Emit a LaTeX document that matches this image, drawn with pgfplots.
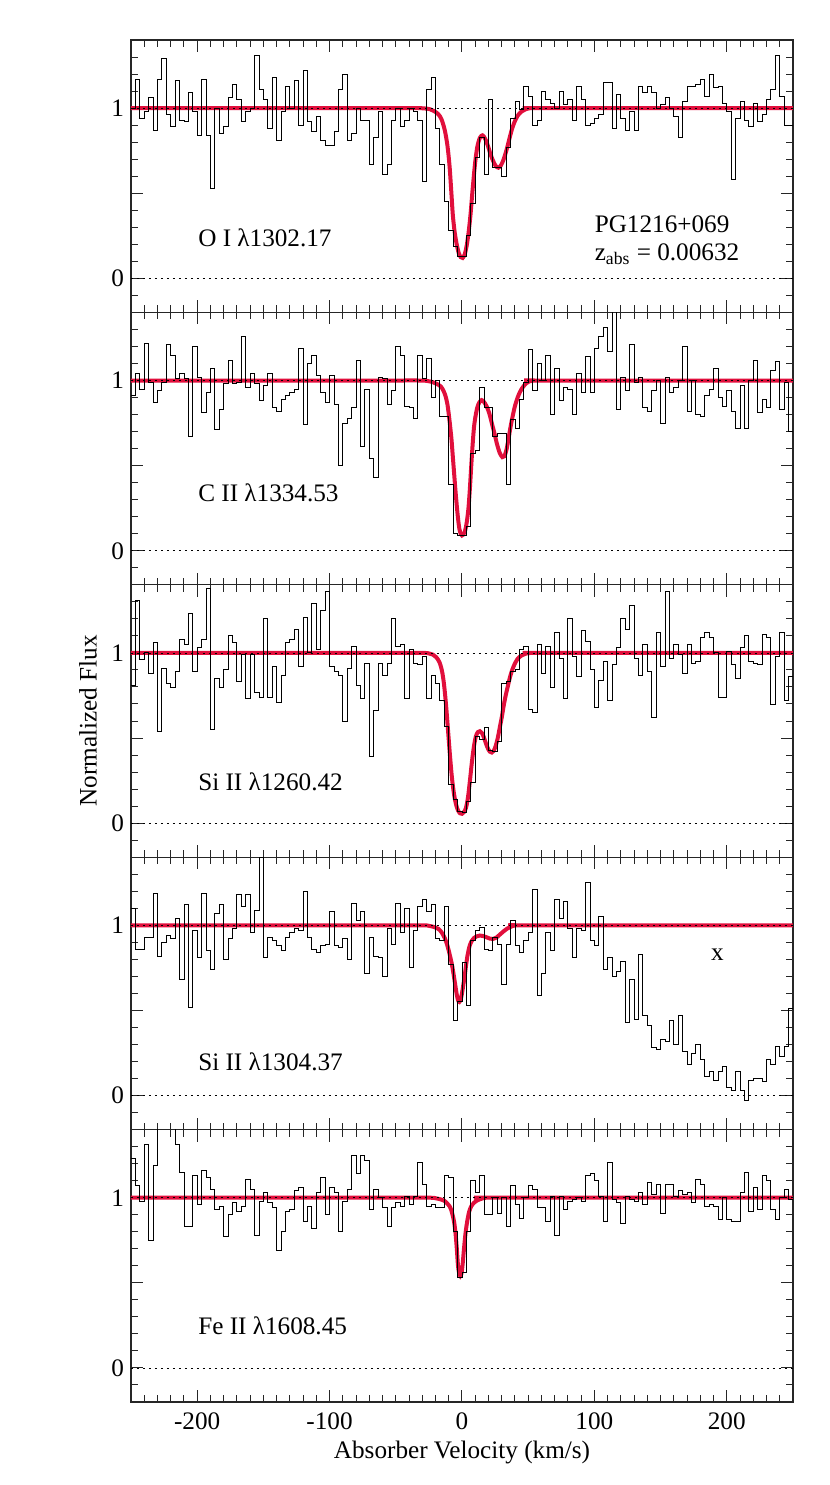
\documentclass[border=0pt]{standalone}
\usepackage{fontspec}
\setmainfont{Liberation Serif}
\usepackage{pgfplots}
\pgfplotsset{compat=1.18}
\usepackage{pgfplotstable}
\definecolor{fitred}{RGB}{225,15,60}

\pgfplotstableread{
v f1 f2 f3 f4 f5
-250.00 1.00 0.91 0.81 1.10 1.23
-246.67 1.17 1.04 1.31 0.86 1.07
-243.33 0.94 0.95 0.96 0.86 0.98
-240.00 0.98 1.22 1.00 0.93 1.31
-236.67 1.06 0.99 0.88 0.93 0.75
-233.33 0.87 0.87 1.06 1.19 1.19
-230.00 1.17 0.94 0.54 0.82 1.45
-226.67 1.29 0.99 0.91 0.90 1.45
-223.33 0.96 1.21 0.82 0.94 1.45
-220.00 0.89 1.15 0.80 0.92 1.45
-216.67 1.16 1.01 0.89 1.04 1.31
-213.33 0.93 1.04 1.08 0.68 1.15
-210.00 0.92 1.01 1.05 1.12 0.83
-206.67 1.09 0.67 1.23 0.52 0.83
-203.33 0.98 1.20 0.89 0.97 1.13
-200.00 0.84 1.02 1.03 0.81 0.96
-196.67 1.17 0.81 1.08 1.19 1.16
-193.33 0.84 0.93 1.38 0.85 1.12
-190.00 0.53 1.07 0.55 0.74 1.05
-186.67 1.00 0.71 0.85 1.07 0.93
-183.33 0.85 0.83 0.80 1.12 0.95
-180.00 0.89 0.98 0.90 0.80 0.77
-176.67 1.06 1.12 1.10 0.92 0.90
-173.33 1.14 0.98 1.06 0.98 0.97
-170.00 1.05 0.99 0.83 1.18 0.92
-166.67 0.92 1.26 0.99 1.11 0.95
-163.33 0.98 0.96 0.73 1.18 1.11
-160.00 1.00 1.04 0.99 0.96 1.05
-156.67 1.31 0.98 0.77 1.09 0.78
-153.33 1.11 0.88 0.74 1.40 0.98
-150.00 1.05 0.97 1.20 0.81 1.03
-146.67 0.88 1.04 0.74 0.93 0.97
-143.33 1.18 0.84 0.92 0.91 0.94
-140.00 0.81 0.82 0.71 0.88 0.69
-136.67 0.98 0.89 0.87 0.85 0.80
-133.33 1.13 0.91 1.06 0.93 0.92
-130.00 1.00 0.93 1.08 0.96 0.93
-126.67 1.16 0.95 1.14 0.98 1.04
-123.33 0.90 1.19 0.92 0.97 1.06
-120.00 1.22 0.74 1.21 1.20 0.86
-116.67 0.92 1.10 1.00 0.93 0.95
-113.33 0.86 1.15 1.29 0.86 0.82
-110.00 0.95 1.03 1.02 0.84 1.03
-106.67 0.81 0.93 1.25 0.88 1.12
-103.33 0.78 0.87 1.36 0.89 0.90
-100.00 0.78 1.03 0.92 1.08 1.06
-96.67 0.86 0.86 0.89 0.88 1.03
-93.33 1.11 0.50 0.87 0.87 0.80
-90.00 1.20 0.75 0.60 0.92 0.98
-86.67 0.81 0.78 0.91 0.80 1.05
-83.33 0.85 0.84 1.04 1.13 1.25
-80.00 1.00 1.12 0.81 1.03 1.14
-76.67 0.93 0.61 0.73 1.08 1.25
-73.33 0.93 0.95 0.94 0.72 1.22
-70.00 0.67 0.54 0.39 0.93 0.93
-66.67 0.83 0.43 0.66 0.82 1.05
-63.33 0.98 1.02 0.94 0.81 1.00
-60.00 0.61 1.01 0.87 0.70 0.94
-56.67 0.67 0.86 0.94 0.98 0.83
-53.33 0.93 0.94 1.20 0.89 0.94
-50.00 1.00 1.20 1.04 1.13 0.97
-46.67 0.89 1.15 1.05 0.96 0.95
-43.33 0.93 0.85 0.73 1.10 1.01
-40.00 1.00 0.84 1.02 0.75 0.96
-36.67 0.98 0.78 0.94 0.97 1.01
-33.33 0.93 1.15 0.93 1.11 1.21
-30.00 0.57 1.01 0.98 1.15 1.08
-26.67 1.11 1.13 0.73 1.08 0.95
-23.33 1.18 0.90 0.87 1.12 0.96
-20.00 0.88 1.00 0.82 0.92 0.94
-16.67 0.67 0.79 0.72 0.91 0.94
-13.33 0.45 0.79 0.57 1.11 1.13
-10.00 0.28 0.39 0.23 0.77 1.12
-6.67 0.19 0.10 0.14 0.44 0.80
-3.33 0.13 0.09 0.07 0.55 0.53
0.00 0.13 0.09 0.06 0.78 0.56
3.33 0.25 0.14 0.13 0.53 0.80
6.67 0.44 0.57 0.24 0.91 1.10
10.00 0.71 0.59 0.51 0.97 1.03
13.33 0.83 0.96 0.49 0.99 1.13
16.67 0.61 0.84 0.56 0.86 0.90
20.00 1.05 0.84 0.43 0.85 0.90
23.33 0.65 0.67 0.42 0.93 1.00
26.67 0.65 0.69 0.48 0.89 0.91
30.00 0.60 0.69 0.82 0.65 1.00
33.33 0.77 0.39 0.83 0.89 0.83
36.67 0.94 0.77 0.89 1.03 1.07
40.00 1.04 0.72 0.90 0.88 0.96
43.33 0.99 0.89 1.02 0.84 0.88
46.67 1.13 0.99 1.04 0.91 1.00
50.00 1.07 1.18 0.67 0.96 1.07
53.33 0.90 0.94 0.65 1.21 1.05
56.67 0.93 1.10 1.05 0.59 0.94
60.00 1.10 1.00 0.88 0.72 0.94
63.33 1.05 1.15 1.04 0.96 0.86
66.67 1.03 0.80 0.80 0.85 1.01
70.00 1.00 1.07 1.12 1.15 0.78
73.33 1.10 0.88 0.97 1.04 1.01
76.67 1.02 0.96 0.73 1.14 0.93
80.00 1.05 0.95 1.20 0.98 0.98
83.33 0.93 0.80 0.98 0.81 0.99
86.67 1.13 1.04 0.86 0.98 1.00
90.00 1.05 0.93 1.13 0.97 0.98
93.33 0.90 1.14 1.07 1.25 1.13
96.67 0.91 0.93 0.90 0.91 1.14
100.00 0.94 1.19 0.68 0.88 1.10
103.33 0.96 1.26 0.84 1.05 1.01
106.67 1.15 1.31 0.95 0.74 0.86
110.00 1.15 1.17 0.72 0.81 1.21
113.33 0.88 1.45 0.93 0.70 0.99
116.67 1.08 0.83 1.03 0.73 0.97
120.00 0.94 1.02 1.20 0.79 0.85
123.33 0.87 0.94 1.14 0.43 1.01
126.67 0.98 1.21 1.28 0.68 0.99
130.00 0.87 0.99 0.97 0.45 0.98
133.33 1.13 1.02 0.87 0.83 1.03
136.67 1.09 0.84 1.05 0.47 0.96
140.00 1.13 0.82 0.89 0.41 1.09
143.33 1.09 0.94 0.62 0.28 1.02
146.67 1.00 1.00 1.12 0.27 1.08
150.00 1.02 0.75 0.92 0.33 0.91
153.33 1.06 1.02 1.36 0.32 1.08
156.67 1.00 0.93 0.97 0.44 1.08
160.00 0.95 0.96 1.05 0.30 1.01
163.33 0.83 1.00 0.99 0.47 1.04
166.67 1.04 1.20 0.88 0.26 1.02
170.00 1.13 0.82 1.05 0.18 1.03
173.33 1.13 1.00 0.94 0.25 0.97
176.67 1.14 0.80 0.95 0.30 1.11
180.00 1.17 0.79 1.09 0.21 1.08
183.33 1.07 0.91 1.12 0.11 0.95
186.67 1.20 0.95 1.09 0.14 0.96
190.00 1.12 1.07 1.00 0.09 0.95
193.33 1.13 0.90 0.74 0.14 0.87
196.67 1.03 0.85 0.74 0.17 1.00
200.00 0.98 0.94 1.01 0.05 0.87
203.33 0.58 0.82 0.93 0.03 0.86
206.67 0.94 0.72 0.85 0.14 0.86
210.00 1.04 0.97 1.03 0.03 1.03
213.33 0.93 0.72 1.10 -0.03 1.15
216.67 0.89 1.00 0.95 0.09 0.92
220.00 1.03 1.12 0.94 0.10 1.06
223.33 0.92 0.81 0.93 0.10 0.93
226.67 0.96 0.89 1.11 0.08 1.13
230.00 1.05 0.84 1.09 0.21 1.10
233.33 1.11 1.06 0.70 0.18 0.93
236.67 1.31 1.11 0.98 0.29 0.87
240.00 1.07 0.83 1.12 0.23 1.00
243.33 0.90 0.99 0.72 0.29 1.05
246.67 0.90 0.70 0.86 0.51 0.99
250.00 0.90 0.70 0.86 0.51 0.99
}\spec

\pgfplotsset{
  panel/.style={
    width=331pt, height=136.2pt, scale only axis,
    anchor=north west,
    xmin=-250, xmax=250, ymin=-0.2, ymax=1.4,
    xtick={-200,-100,0,100,200},
    minor xtick={-250,-240,...,250},
    ytick={0,0.5,1},
    yticklabels={0,{},1},
    minor ytick={-0.1,0.1,0.2,0.3,0.4,0.6,0.7,0.8,0.9,1.1,1.2,1.3},
    xticklabels={},
    tick align=inside,
    major tick length=6pt, minor tick length=3.5pt,
    axis line style={black!85, line width=0.6pt},
    tick style={black!85, line width=0.5pt},
  },
  spec/.style={const plot, black, line width=0.45pt},
  model/.style={fitred, line width=2pt, smooth},
  guide/.style={black, line width=0.4pt, dash pattern=on 0.8pt off 2.2pt},
}
\tikzset{lab/.style={anchor=west, inner sep=0pt, font=\fontsize{12.6}{15}\selectfont}}

\begin{document}
\begin{tikzpicture}[font=\fontsize{12.6}{15}\selectfont]
\path[use as bounding box] (-65.5pt,20pt) rectangle (349.5pt,-722.5pt);

% ---------- O I 1302
\begin{axis}[panel, at={(0pt,0pt)}]
\addplot[model] coordinates {(-250,1) (-60,1) (-35,1) (-28,0.998) (-24,0.993) (-21,0.982) (-18,0.965) (-15.5,0.935) (-13,0.87) (-11,0.78) (-9.4,0.66) (-8,0.5) (-6.9,0.37) (-5.5,0.27) (-4,0.2) (-2.5,0.15) (-1,0.125) (0.5,0.12) (2,0.14) (3.5,0.19) (5,0.27) (6.5,0.38) (8,0.52) (9.8,0.67) (11.5,0.77) (13.5,0.825) (15.5,0.84) (17.5,0.82) (19.5,0.78) (21.5,0.73) (23.5,0.69) (25.5,0.66) (27.5,0.65) (29.5,0.665) (31.5,0.70) (33.5,0.75) (35.5,0.81) (37.5,0.87) (39.5,0.915) (42,0.955) (45,0.98) (48,0.993) (52,1) (60,1) (250,1)};
\addplot[spec] table[x=v, y=f1] {\spec};
\addplot[guide] coordinates {(-250,1) (250,1)};
\addplot[guide] coordinates {(-250,0) (250,0)};
\node[lab] at (axis cs:-199.5,0.24) {O I λ1302.17};
\node[lab] at (axis cs:100,0.32) {PG1216+069};
\node[lab] at (axis cs:100,0.14) {z\textsubscript{abs} = 0.00632};
\end{axis}

% ---------- C II 1334
\begin{axis}[panel, at={(0pt,-136.2pt)}]
\addplot[model] coordinates {(-250,1) (-60,1) (-32,1) (-26,0.997) (-22,0.99) (-19,0.98) (-16,0.965) (-14,0.94) (-12.5,0.91) (-11,0.86) (-9.5,0.77) (-8,0.66) (-7,0.56) (-6,0.46) (-5,0.36) (-4,0.27) (-3,0.19) (-2,0.13) (-1,0.10) (0,0.09) (1,0.095) (2,0.11) (3,0.14) (4,0.19) (5,0.26) (6,0.37) (7,0.50) (8,0.62) (9,0.72) (10,0.78) (11.5,0.84) (13,0.87) (14.8,0.885) (16.5,0.875) (18.5,0.85) (20.5,0.81) (22.5,0.75) (24.5,0.69) (26.5,0.625) (28.5,0.575) (30.5,0.55) (32,0.555) (33.5,0.59) (35,0.65) (36.5,0.72) (38,0.78) (40,0.85) (42.5,0.91) (45,0.95) (48,0.98) (51,0.995) (55,1) (60,1) (250,1)};
\addplot[spec] table[x=v, y=f2] {\spec};
\addplot[guide] coordinates {(-250,1) (250,1)};
\addplot[guide] coordinates {(-250,0) (250,0)};
\node[lab] at (axis cs:-199.5,0.34) {C II λ1334.53};
\end{axis}

% ---------- Si II 1260
\begin{axis}[panel, at={(0pt,-272.4pt)}, ylabel={Normalized Flux},
  ylabel style={at={(axis description cs:-0.065,0.5)}, anchor=center}]
\addplot[model] coordinates {(-250,1) (-60,1) (-30,1) (-25,0.997) (-22,0.99) (-19.5,0.975) (-17,0.945) (-15,0.89) (-13.5,0.81) (-12,0.69) (-10.5,0.54) (-9,0.39) (-7.5,0.26) (-6,0.17) (-4.5,0.11) (-3,0.075) (-1.5,0.058) (0,0.055) (1.5,0.065) (3,0.09) (4.5,0.15) (6,0.25) (7.5,0.36) (9,0.45) (10.5,0.51) (12,0.535) (13.5,0.54) (15,0.53) (16.5,0.505) (18,0.47) (19.5,0.44) (21,0.42) (22.5,0.415) (24,0.425) (25.5,0.455) (27,0.50) (28.5,0.56) (30,0.62) (31.5,0.69) (33,0.75) (34.5,0.80) (36,0.85) (37.5,0.89) (39.5,0.93) (42,0.965) (45,0.985) (48,0.995) (52,1) (60,1) (250,1)};
\addplot[spec] table[x=v, y=f3] {\spec};
\addplot[guide] coordinates {(-250,1) (250,1)};
\addplot[guide] coordinates {(-250,0) (250,0)};
\node[lab] at (axis cs:-199.5,0.24) {Si II λ1260.42};
\end{axis}

% ---------- Si II 1304
\begin{axis}[panel, at={(0pt,-408.6pt)}]
\addplot[model] coordinates {(-250,1) (-60,1) (-30,1) (-25,0.997) (-21,0.99) (-18,0.98) (-15.5,0.96) (-13,0.925) (-11,0.88) (-9.5,0.835) (-8,0.785) (-6.5,0.72) (-5,0.645) (-4,0.595) (-3,0.56) (-2,0.55) (-1,0.565) (0,0.60) (1,0.65) (2,0.70) (3,0.76) (4,0.815) (5,0.855) (6,0.885) (7.5,0.91) (9,0.925) (11,0.935) (13.5,0.94) (16,0.937) (18.5,0.93) (21,0.922) (23.5,0.92) (26,0.928) (28.5,0.945) (31,0.962) (34,0.98) (37,0.992) (41,1) (50,1) (250,1)};
\addplot[spec] table[x=v, y=f4] {\spec};
\addplot[guide] coordinates {(-250,1) (250,1)};
\addplot[guide] coordinates {(-250,0) (250,0)};
\node[lab] at (axis cs:-199.5,0.20) {Si II λ1304.37};
\node at (axis cs:193,0.83) {x};
\end{axis}

% ---------- Fe II 1608
\begin{axis}[panel, at={(0pt,-544.8pt)},
  xticklabels={-200,-100,0,100,200},
  xticklabel style={yshift=-2pt},
  xlabel={Absorber Velocity (km/s)},
  xlabel style={at={(axis description cs:0.5,-0.187)}, anchor=center}]
\addplot[model] coordinates {(-250,1) (-60,1) (-25,1) (-20,0.997) (-16,0.99) (-13,0.98) (-11,0.965) (-9.4,0.95) (-8,0.925) (-7,0.895) (-6,0.86) (-5,0.80) (-4,0.71) (-3,0.60) (-2,0.55) (-1.2,0.54) (-0.4,0.555) (0.5,0.61) (1.5,0.70) (2.5,0.78) (3.5,0.84) (4.5,0.885) (5.5,0.92) (7,0.95) (9,0.97) (11,0.982) (14,0.992) (18,1) (25,1) (250,1)};
\addplot[spec] table[x=v, y=f5] {\spec};
\addplot[guide] coordinates {(-250,1) (250,1)};
\addplot[guide] coordinates {(-250,0) (250,0)};
\node[lab] at (axis cs:-199.5,0.25) {Fe II λ1608.45};
\end{axis}
\end{tikzpicture}
\end{document}
